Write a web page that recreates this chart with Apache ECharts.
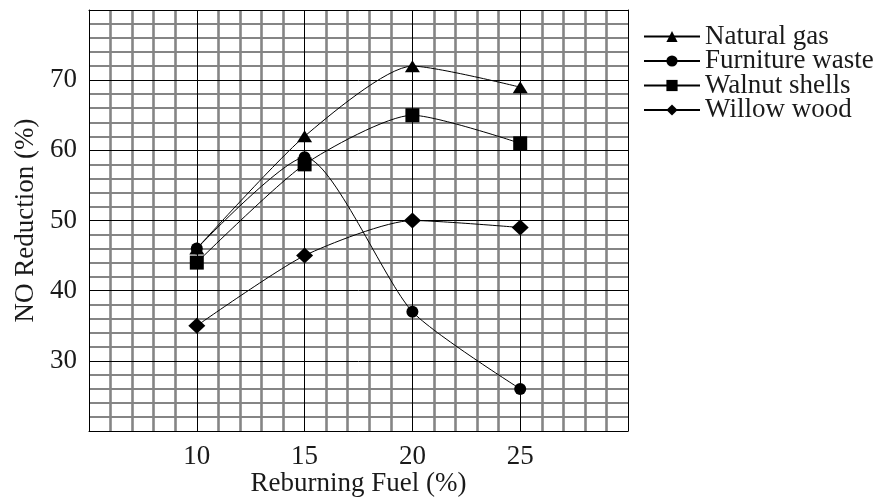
<!DOCTYPE html>
<html>
<head>
<meta charset="utf-8">
<script src="https://cdn.jsdelivr.net/npm/echarts@6/dist/echarts.min.js"></script>
<style>
  html, body { margin: 0; padding: 0; background: #ffffff; }
  #chart { width: 883px; height: 500px; }
</style>
</head>
<body>
<div id="chart"></div>
<script>
// Reburning fuel fraction (%) on the x axis
const fuelLevels = [10, 15, 20, 25];

// NO reduction (%) for each reburning fuel
const naturalGas     = [46, 62, 72, 69];
const furnitureWaste = [46, 59, 37, 26];
const walnutShells   = [44, 58, 65, 61];
const willowWood     = [35, 45, 50, 49];

const seriesNames = ['Natural gas', 'Furniture waste', 'Walnut shells', 'Willow wood'];

// Tick labels that are printed on each axis
const xTickLabels = [10, 15, 20, 25];
const yTickLabels = [30, 40, 50, 60, 70];

const FONT = '"Liberation Serif", "Times New Roman", serif';
const INK = '#1a1a1a';
const GRID_GREY = '#858585';

const pairs = (ys) => fuelLevels.map((x, i) => [x, ys[i]]);

const lineSeries = (name, ys, symbol, size) => ({
  name: name,
  type: 'line',
  xAxisIndex: 0,
  yAxisIndex: 0,
  data: pairs(ys),
  smooth: 0.22,
  symbol: symbol,
  symbolSize: size,
  showAllSymbol: true,
  lineStyle: { color: '#000', width: 1 },
  itemStyle: { color: '#000', borderWidth: 0 },
  emphasis: { disabled: true },
  z: 5
});

const chart = echarts.init(document.getElementById('chart'), null, { renderer: 'canvas' });

const xRange = { min: 5, max: 30, interval: 5 };
const yRange = { min: 20, max: 80, interval: 10 };

chart.setOption({
  animation: false,
  backgroundColor: '#ffffff',
  grid: {
    left: 89, right: 255, top: 10, bottom: 69,
    show: false, containLabel: false, outerBoundsMode: 'none'
  },
  legend: {
    orient: 'vertical',
    left: 643,
    top: 23,
    padding: 0,
    itemWidth: 56,
    itemHeight: 14,
    itemGap: -2.5,
    data: seriesNames,
    textStyle: { fontFamily: FONT, fontSize: 27, color: INK },
    inactiveColor: '#000'
  },
  xAxis: [
    {
      // fine grey grid every 1 % of fuel, with labels
      type: 'value', ...xRange, position: 'bottom', z: 0,
      axisLine: { show: true, onZero: false, lineStyle: { color: '#000', width: 1 } },
      axisTick: { show: false },
      splitLine: { show: false },
      minorTick: { show: false, splitNumber: 5 },
      minorSplitLine: { show: true, lineStyle: { color: GRID_GREY, width: 2.6 } },
      axisLabel: {
        margin: 12, fontFamily: FONT, fontSize: 27, color: INK,
        formatter: (v) => xTickLabels.includes(v) ? String(v) : ''
      },
      name: 'Reburning Fuel (%)',
      nameLocation: 'middle',
      nameGap: 39,
      nameMoveOverlap: false,
      nameTextStyle: { fontFamily: FONT, fontSize: 27, color: INK }
    },
    {
      // black major grid lines and top frame edge
      type: 'value', ...xRange, position: 'top', z: 1,
      axisLine: { show: true, onZero: false, lineStyle: { color: '#000', width: 1 } },
      axisTick: { show: false },
      axisLabel: { show: false },
      splitLine: { show: true, lineStyle: { color: '#000', width: 1 } }
    }
  ],
  yAxis: [
    {
      type: 'value', ...yRange, position: 'left', z: 0,
      axisLine: { show: true, onZero: false, lineStyle: { color: '#000', width: 1 } },
      axisTick: { show: false },
      splitLine: { show: false },
      minorTick: { show: false, splitNumber: 5 },
      minorSplitLine: { show: true, lineStyle: { color: GRID_GREY, width: 2 } },
      axisLabel: {
        margin: 12, fontFamily: FONT, fontSize: 27, color: INK,
        formatter: (v) => yTickLabels.includes(v) ? String(v) : ''
      },
      name: 'NO Reduction (%)',
      nameLocation: 'middle',
      nameGap: 50,
      nameRotate: 90,
      nameMoveOverlap: false,
      nameTextStyle: { fontFamily: FONT, fontSize: 27, color: INK }
    },
    {
      // black major grid lines and right frame edge
      type: 'value', ...yRange, position: 'right', z: 1,
      axisLine: { show: true, onZero: false, lineStyle: { color: '#000', width: 1 } },
      axisTick: { show: false },
      axisLabel: { show: false },
      splitLine: { show: true, lineStyle: { color: '#000', width: 1 } }
    }
  ],
  series: [
    lineSeries(seriesNames[0], naturalGas, 'triangle', [15, 12]),
    lineSeries(seriesNames[1], furnitureWaste, 'circle', 12),
    lineSeries(seriesNames[2], walnutShells, 'rect', 14),
    lineSeries(seriesNames[3], willowWood, 'diamond', [17, 16])
  ]
});
</script>
</body>
</html>
